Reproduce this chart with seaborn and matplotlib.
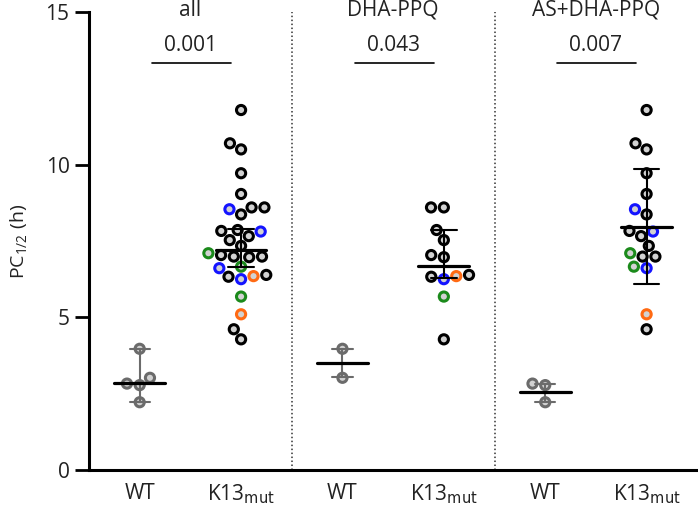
import pandas as pd
import matplotlib.pyplot as plt
import seaborn as sns

# panel names and p-values
panels = ["all", "DHA-PPQ", "AS+DHA-PPQ"]
p_values = ["0.001", "0.043", "0.007"]

# WT values per regimen
wt_dha = [3.97, 3.02]
wt_as = [2.83, 2.78, 2.22]

# K13 mutant values per regimen, with the colour class of each point
k13_dha = [8.60, 8.60, 7.86, 7.53, 7.04, 6.97, 6.35, 6.33, 6.25, 6.39, 5.68, 4.28]
k13_dha_kind = ["k", "k", "k", "k", "k", "k", "o", "k", "b", "k", "g", "k"]
k13_as = [11.79, 10.70, 10.50, 9.72, 9.04, 8.54, 8.37, 7.81, 7.83, 7.66, 7.34,
          7.10, 6.99, 6.99, 6.66, 6.61, 5.10, 4.61]
k13_as_kind = ["k", "k", "k", "k", "k", "b", "k", "b", "k", "k", "k",
               "g", "k", "k", "g", "b", "o", "k"]

# summary lines (centre and whisker ends)
centers = [2.84, 7.22, 3.50, 6.68, 2.56, 7.97]
lows = [2.22, 6.66, 3.06, 6.30, 2.22, 6.09]
highs = [3.97, 7.88, 3.97, 7.86, 2.83, 9.85]

order = ["all_WT", "all_K13", "DHA_WT", "DHA_K13", "AS_WT", "AS_K13"]
tick_labels = ["WT", "K13$_{\\mathrm{mut}}$"] * 3

palette = {"wt": "#6b6b6b", "k": "#000000", "b": "#1414ff",
           "g": "#1b8a1b", "o": "#ff6a13"}

rows = []
for v in wt_dha + wt_as:
    rows.append(("all_WT", v, "wt"))
for v, k in zip(k13_dha + k13_as, k13_dha_kind + k13_as_kind):
    rows.append(("all_K13", v, k))
for v in wt_dha:
    rows.append(("DHA_WT", v, "wt"))
for v, k in zip(k13_dha, k13_dha_kind):
    rows.append(("DHA_K13", v, k))
for v in wt_as:
    rows.append(("AS_WT", v, "wt"))
for v, k in zip(k13_as, k13_as_kind):
    rows.append(("AS_K13", v, k))
df = pd.DataFrame(rows, columns=["group", "value", "kind"])

sns.set_theme(style="white")
plt.rcParams['font.family'] = ['Open Sans', 'DejaVu Sans']
plt.rcParams['mathtext.default'] = 'regular'

fig = plt.figure(figsize=(6.98, 5.13), dpi=100)
ax = fig.add_axes([0.1275, 0.0838, 0.8715, 0.8928])

sns.swarmplot(data=df, x="group", y="value", hue="kind", order=order,
              palette=palette, size=6.6, linewidth=0, legend=False, ax=ax,
              zorder=2)

# open circles: coloured rim, light grey fill
for coll in ax.collections:
    fc = coll.get_facecolors()
    coll.set_edgecolors(fc)
    coll.set_facecolors("#d2d2d2")
    coll.set_linewidths(2.2)

# median and whiskers
for i, (c, lo, hi) in enumerate(zip(centers, lows, highs)):
    wcol = "#6b6b6b" if i % 2 == 0 else "black"
    capw = 0.1 if i % 2 == 0 else 0.125
    ax.plot([i, i], [lo, hi], color=wcol, lw=1.5, zorder=3)
    ax.plot([i - capw, i + capw], [lo, lo], color=wcol, lw=1.5, zorder=3)
    ax.plot([i - capw, i + capw], [hi, hi], color=wcol, lw=1.5, zorder=3)
    ax.plot([i - 0.25, i + 0.25], [c, c], color="black", lw=2.3, zorder=4)

# panel separators
for xs in [1.5, 3.5]:
    ax.plot([xs, xs], [0, 15], color="#333333", lw=1.1, ls=(0, (1, 1.6)),
            zorder=1, clip_on=False)

# titles, p-values and brackets
for j, (name, p) in enumerate(zip(panels, p_values)):
    x0 = 2 * j
    ax.text(x0 + 0.5, 15.05, name, ha="center", va="center", fontsize=15,
            color="#222222")
    ax.text(x0 + 0.5, 13.9, p, ha="center", va="center", fontsize=15,
            color="#222222")
    ax.plot([x0 + 0.12, x0 + 0.9], [13.32, 13.32], color="black", lw=1.2,
            clip_on=False)

ax.set_xlim(-0.5, 5.5)
ax.set_ylim(0, 15)
ax.set_yticks([0, 5, 10, 15])
ax.set_xticks(range(6))
ax.set_xticklabels(tick_labels, fontsize=15, color="#222222")
ax.tick_params(axis="y", labelsize=15, labelcolor="#222222", length=10,
               width=2, color="black", left=True, pad=4)
ax.tick_params(axis="x", length=0, pad=9)
ax.set_xlabel("")
ax.set_ylabel("PC$_{1/2}$ (h)", fontsize=14, color="#222222", labelpad=12)

sns.despine(ax=ax)
for s in ["left", "bottom"]:
    ax.spines[s].set_linewidth(2.2)
    ax.spines[s].set_color("black")

fig.savefig("out.png", dpi=100)
